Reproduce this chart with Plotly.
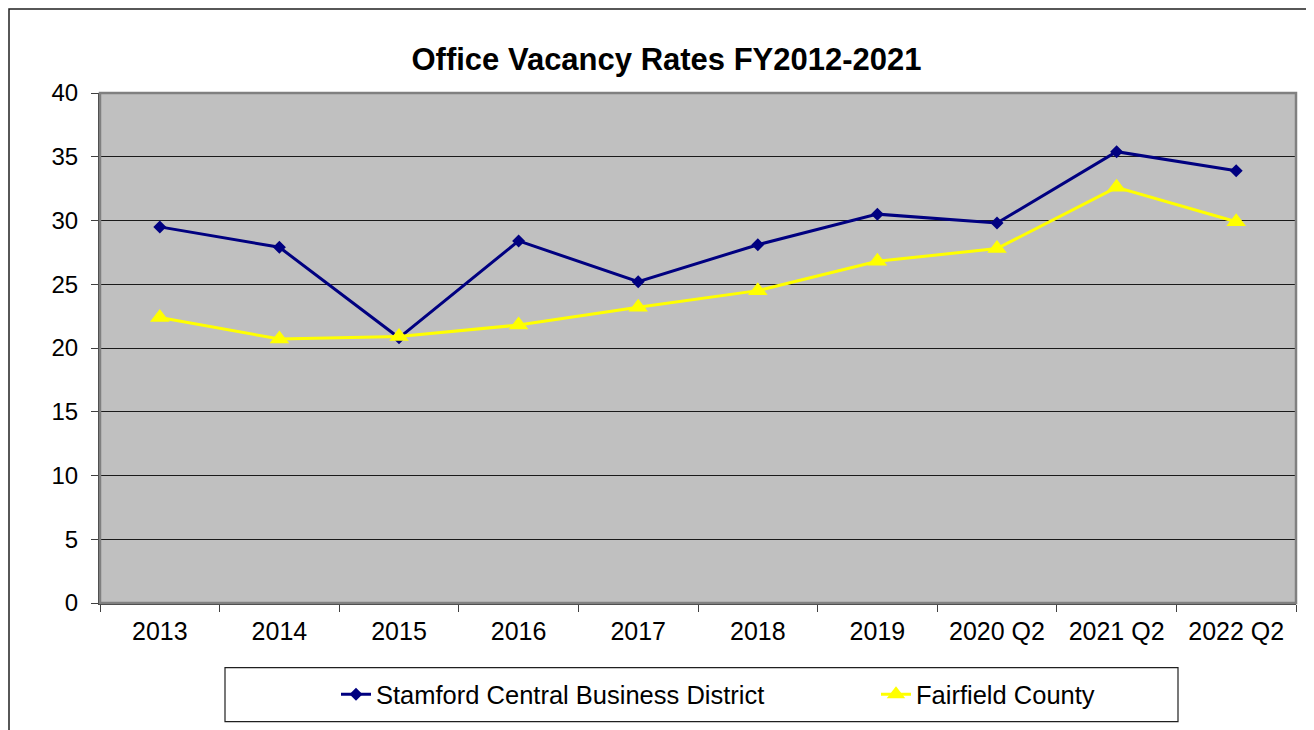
import plotly.graph_objects as go

categories = ["2013", "2014", "2015", "2016", "2017", "2018", "2019", "2020 Q2", "2021 Q2", "2022 Q2"]
stamford_cbd = [29.5, 27.9, 20.8, 28.4, 25.2, 28.1, 30.5, 29.8, 35.4, 33.9]
fairfield_county = [22.4, 20.7, 20.9, 21.8, 23.2, 24.5, 26.8, 27.8, 32.6, 29.9]
y_ticks = [0, 5, 10, 15, 20, 25, 30, 35, 40]

# the page body adds an 8px margin; work in window pixels and shift
OFF = 8
W, H = 1314 - OFF, 730 - OFF
PL, PR, PT, PB = 100, 1296, 93, 603.3  # plot area in window pixels
L, R, T, B = PL - OFF, (1314 - PR), PT - OFF, H - (PB - OFF)
pw, ph = W - L - R, H - T - B

def px(x):
    return (x - PL) / pw

def py(y):
    return (PB - y) / ph

FONT = "Liberation Sans, Arial, sans-serif"

fig = go.Figure()
fig.add_trace(go.Scatter(
    x=categories, y=stamford_cbd, mode="lines+markers",
    name="Stamford Central Business District",
    line=dict(color="#000080", width=3),
    marker=dict(symbol="diamond", size=10, color="#000080"),
))
fig.add_trace(go.Scatter(
    x=categories, y=fairfield_county, mode="lines+markers",
    name="Fairfield County",
    line=dict(color="#FFFF00", width=3),
    marker=dict(symbol="triangle-up", size=17, color="#FFFF00"),
))

shapes = [
    # outer chart border (cropped at right / bottom)
    dict(type="rect", xref="paper", yref="paper",
         x0=px(9), x1=px(1340), y0=py(760), y1=py(9),
         line=dict(color="#202020", width=1.5), fillcolor="rgba(0,0,0,0)", layer="below"),
    # plot area border
    dict(type="rect", xref="paper", yref="paper",
         x0=0, x1=1, y0=0, y1=1,
         line=dict(color="#808080", width=2.5), fillcolor="rgba(0,0,0,0)", layer="above"),
    # legend box
    dict(type="rect", xref="paper", yref="paper",
         x0=px(225), x1=px(1178), y0=py(722), y1=py(668),
         line=dict(color="#202020", width=1.2), fillcolor="white", layer="below"),
]

fig.update_layout(
    width=W, height=H,
    margin=dict(l=L, r=R, t=T, b=B, autoexpand=False),
    paper_bgcolor="white",
    plot_bgcolor="#C0C0C0",
    font=dict(family=FONT, size=24, color="black"),
    title=dict(text="<b>Office Vacancy Rates FY2012-2021</b>",
               font=dict(family=FONT, size=31, color="black"),
               x=(666.5 - OFF) / W, xref="container", xanchor="center",
               y=1 - (59 - OFF) / H, yref="container", yanchor="middle"),
    showlegend=True,
    legend=dict(orientation="h", x=px(336), xanchor="left",
                y=py(695), yanchor="middle",
                bgcolor="rgba(0,0,0,0)", borderwidth=0,
                font=dict(family=FONT, size=25.5, color="black"),
                entrywidth=495, entrywidthmode="pixels",
                itemclick=False),
    shapes=shapes,
    xaxis=dict(type="category", range=[-0.5, len(categories) - 0.5],
               tickson="boundaries", ticks="outside", ticklen=7, tickwidth=1,
               tickcolor="#404040", showgrid=False,
               showline=True, linecolor="#404040", linewidth=2,
               tickfont=dict(family=FONT, size=25, color="black"),
               ticklabelstandoff=5, zeroline=False),
    yaxis=dict(range=[0, 40], tickvals=y_ticks, ticks="outside", ticklen=7,
               tickwidth=1, tickcolor="#404040",
               showgrid=True, gridcolor="#1a1a1a", gridwidth=1,
               showline=True, linecolor="#404040", linewidth=2,
               tickfont=dict(family=FONT, size=24, color="black"),
               ticklabelstandoff=8, zeroline=False),
)

fig.write_html("out.html")
